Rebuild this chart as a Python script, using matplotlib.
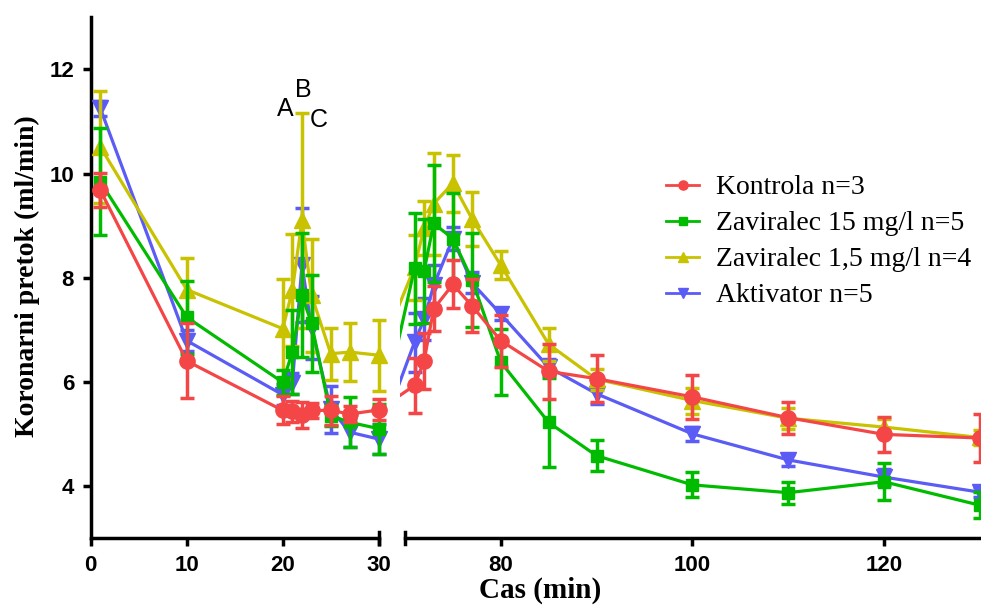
import numpy as np
import matplotlib
matplotlib.use('Agg')
import matplotlib.pyplot as plt
import matplotlib.transforms as mtrans
from matplotlib.lines import Line2D

plt.rcParams['font.family'] = ['Liberation Sans', 'DejaVu Sans']

# casi meritev (min)
x_left = [1, 10, 20, 21, 22, 23, 25, 27, 30]
x_right = [71, 72, 73, 75, 77, 80, 85, 90, 100, 110, 120, 130]

labels = ['Kontrola n=3', 'Zaviralec 15 mg/l n=5', 'Zaviralec 1,5 mg/l n=4', 'Aktivator n=5']

kontrola_l = [9.68, 6.40, 5.45, 5.43, 5.36, 5.45, 5.45, 5.38, 5.46]
kontrola_l_err = [0.33, 0.72, 0.27, 0.20, 0.25, 0.15, 0.28, 0.15, 0.20]
kontrola_r = [5.93, 6.40, 7.40, 7.87, 7.46, 6.79, 6.20, 6.06, 5.71, 5.31, 4.99, 4.92]
kontrola_r_err = [0.53, 0.53, 0.43, 0.46, 0.51, 0.50, 0.53, 0.45, 0.42, 0.31, 0.33, 0.46]

zav15_l = [9.84, 7.24, 5.99, 6.57, 7.66, 7.12, 5.35, 5.22, 5.10]
zav15_l_err = [1.03, 0.70, 0.24, 0.80, 1.19, 0.94, 0.20, 0.48, 0.48]
zav15_r = [8.18, 8.13, 9.04, 8.75, 7.96, 6.38, 5.22, 4.58, 4.02, 3.87, 4.08, 3.63]
zav15_r_err = [1.07, 1.00, 1.12, 0.87, 0.90, 0.63, 0.85, 0.30, 0.24, 0.21, 0.36, 0.25]

zav1_l = [10.51, 7.77, 7.02, 7.76, 9.10, 7.66, 6.54, 6.57, 6.51]
zav1_l_err = [1.08, 0.60, 0.96, 1.07, 2.07, 1.09, 0.50, 0.55, 0.68]
zav1_r = [8.20, 8.95, 9.42, 9.81, 9.13, 8.24, 6.72, 6.05, 5.64, 5.30, 5.13, 4.93]
zav1_r_err = [0.62, 0.52, 0.98, 0.55, 0.52, 0.27, 0.32, 0.20, 0.25, 0.20, 0.15, 0.15]

akt_l = [11.25, 6.79, 5.75, 5.97, 8.24, 7.04, 5.47, 5.03, 4.90]
akt_l_err = [0.15, 0.20, 0.20, 0.20, 1.10, 0.60, 0.45, 0.28, 0.28]
akt_r = [6.76, 7.20, 7.85, 8.75, 7.90, 7.30, 6.28, 5.77, 5.00, 4.50, 4.17, 3.88]
akt_r_err = [0.57, 0.40, 0.40, 0.22, 0.20, 0.12, 0.15, 0.20, 0.13, 0.12, 0.15, 0.10]

# barve in markerji
colors = ['#F44646', '#00BB00', '#C8C200', '#5B5BF5']
markers = ['o', 's', '^', 'v']
msizes = [11, 9, 11, 11]

series = [
    (kontrola_l, kontrola_l_err, kontrola_r, kontrola_r_err),
    (zav15_l, zav15_l_err, zav15_r, zav15_r_err),
    (zav1_l, zav1_l_err, zav1_r, zav1_r_err),
    (akt_l, akt_l_err, akt_r, akt_r_err),
]

fig = plt.figure(figsize=(9.81, 6.07), dpi=100)
ax1 = fig.add_axes([0.0925, 0.1137, 0.2936, 0.8578])
ax2 = fig.add_axes([0.4079, 0.1137, 0.5908, 0.8578])

ax1.set_xlim(0, 30)
ax2.set_xlim(69.5, 130)
for ax in (ax1, ax2):
    ax.set_ylim(3, 13)
    ax.patch.set_alpha(0)

# risanje - zaporedje od spodaj navzgor: modra, rumena, zelena, rdeca
for i in [3, 2, 1, 0]:
    yl, el, yr, er = series[i]
    z = 10 - i
    kw = dict(color=colors[i], marker=markers[i], ms=msizes[i], lw=2.3,
              elinewidth=2.5, capsize=5, capthick=2.5, zorder=z, clip_on=False)
    ax1.errorbar(x_left, yl, yerr=el, **kw)
    ax2.errorbar(x_right, yr, yerr=er, **kw)
    # povezava cez prekinitev osi
    p = ax1.transData.transform((x_left[-1], yl[-1]))
    xb = ax2.transData.inverted().transform(p)[0]
    ax2.plot([xb, x_right[0]], [yl[-1], yr[0]], color=colors[i], lw=2.3, zorder=z - 0.5)

# osi
for s in ['top', 'right']:
    ax1.spines[s].set_visible(False)
for s in ['top', 'right', 'left']:
    ax2.spines[s].set_visible(False)
ax1.spines['left'].set_linewidth(2.5)
ax1.spines['bottom'].set_linewidth(2.5)
ax2.spines['bottom'].set_linewidth(2.5)
ax2.spines['bottom'].set_bounds(70, 130)

ax1.set_xticks([0, 10, 20, 30])
ax1.set_yticks([4, 6, 8, 10, 12])
ax2.set_xticks([80, 100, 120])
ax2.set_yticks([])
for ax in (ax1, ax2):
    ax.tick_params(direction='out', length=6, width=2.5, labelsize=16, pad=6)
    for lab in ax.get_xticklabels() + ax.get_yticklabels():
        lab.set_fontweight('bold')

# koncne crtice na prekinitvi
tr1 = mtrans.blended_transform_factory(ax1.transData, ax1.transAxes)
tr2 = mtrans.blended_transform_factory(ax2.transData, ax2.transAxes)
ax1.plot([30, 30], [-0.012, 0.012], transform=tr1, color='black', lw=2.5, clip_on=False)
ax2.plot([70, 70], [-0.012, 0.012], transform=tr2, color='black', lw=2.5, clip_on=False)

# oznake A, B, C
ax1.text(20.24, 11.24, 'A', fontsize=18, ha='center', va='center')
ax1.text(22.15, 11.61, 'B', fontsize=18, ha='center', va='center')
ax1.text(23.7, 11.03, 'C', fontsize=18, ha='center', va='center')

fig.text(0.028, 0.545, 'Koronarni pretok (ml/min)', rotation=90, ha='center', va='center',
         fontsize=20, fontweight='bold', family='Liberation Serif')
fig.text(540 / 981, 1 - 590 / 607, 'Cas (min)', ha='center', va='center',
         fontsize=21, fontweight='bold', family='Liberation Serif')

# legenda samo s crto in markerjem
handles = [Line2D([], [], color=colors[i], marker=markers[i], ms=msizes[i] * 0.6, lw=2)
           for i in range(4)]
fig.legend(handles, labels, loc='upper left', bbox_to_anchor=(666 / 981, 1 - 175 / 607),
           frameon=False, prop={'family': 'Liberation Serif', 'size': 20},
           handlelength=1.2, handletextpad=0.6, labelspacing=0.38,
           borderaxespad=0, borderpad=0)

fig.savefig('out.png', dpi=100)
